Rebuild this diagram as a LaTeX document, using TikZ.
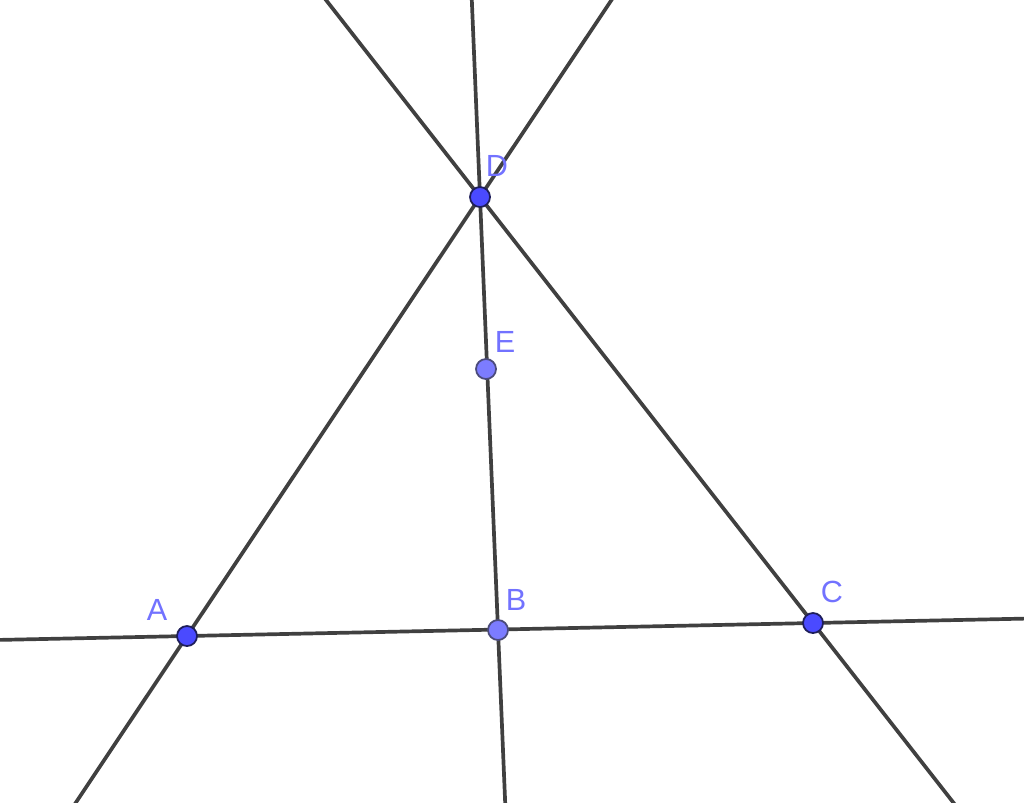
\documentclass[tikz,border=0pt]{standalone}
\usepackage{fontspec}
\setmainfont{Liberation Sans}
\usepackage{tikz}
\usetikzlibrary{calc}

\definecolor{linegray}{HTML}{404040}
\definecolor{ptdark}{HTML}{4A4AFF}
\definecolor{ptlight}{HTML}{7C7CFF}
\definecolor{ptrim}{HTML}{1E1E5A}
\definecolor{lblblue}{HTML}{7272FF}

\tikzset{
  gline/.style={draw=linegray, line width=1.05pt},
  freept/.style={circle, draw=ptrim, line width=0.5pt, fill=ptdark, inner sep=0pt, minimum size=0.2cm},
  onpt/.style={circle, draw=ptrim!80, line width=0.5pt, fill=ptlight, inner sep=0pt, minimum size=0.2cm},
  lbl/.style={text=lblblue, inner sep=0pt, font=\fontsize{8.7}{10}\selectfont}
}

\begin{document}
\begin{tikzpicture}[x=0.01cm, y=-0.01cm]
  \useasboundingbox[fill=white] (0,0) rectangle (1024,802);

  \coordinate (A) at (187,636);
  \coordinate (B) at (498,630);
  \coordinate (C) at (813,623);
  \coordinate (D) at (480,197);
  \coordinate (E) at (486,369);

  % lines
  \begin{scope}
    \clip (0,0) rectangle (1024,802);
    \draw[gline] ($(A)!-1!(C)$) -- ($(C)!-1!(A)$);
    \draw[gline] ($(D)!-1!(A)$) -- ($(A)!-1!(D)$);
    \draw[gline] ($(D)!-1!(C)$) -- ($(C)!-1!(D)$);
    \draw[gline] ($(D)!-1!(B)$) -- ($(B)!-1!(D)$);
  \end{scope}

  % points
  \node[freept] (pA) at (A) {};
  \node[onpt]   (pB) at (B) {};
  \node[freept] (pC) at (C) {};
  \node[freept] (pD) at (D) {};
  \node[onpt]   (pE) at (E) {};

  \node[lbl] (lA) at (157,610) {A};
  \node[lbl] (lB) at (516,600) {B};
  \node[lbl] (lC) at (832,592) {C};
  \node[lbl] (lD) at (497,166) {D};
  \node[lbl] (lE) at (505,342) {E};

\end{tikzpicture}
\end{document}
